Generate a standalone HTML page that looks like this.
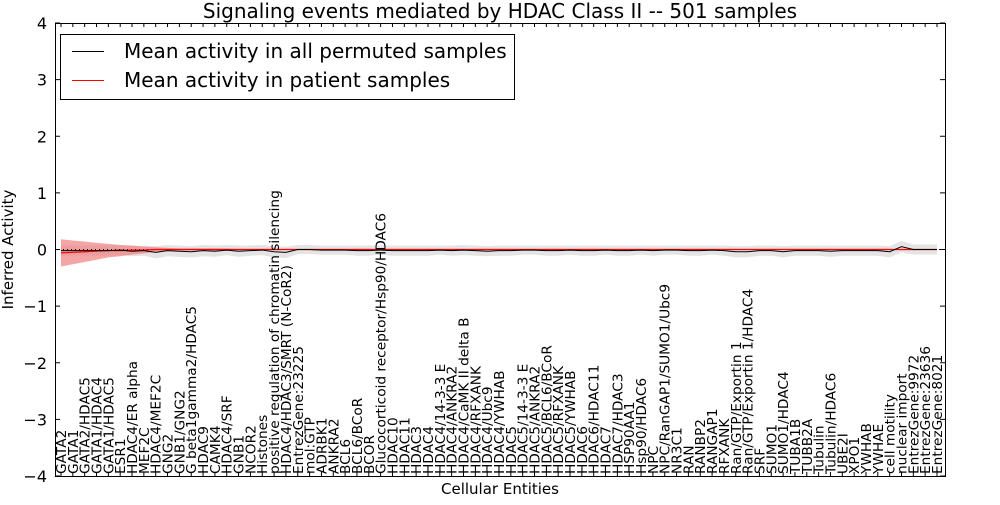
<!DOCTYPE html>
<html><head><meta charset="utf-8"><style>
body{margin:0;background:#fff;}
svg{font-family:"DejaVu Sans","Liberation Sans",sans-serif;}
</style></head><body>
<svg id="chart" width="1000" height="500" viewBox="0 0 1000 500">
<rect width="1000" height="500" fill="#fff"/>
<g id="bands"></g><g id="lines"></g><g id="axes"></g><g id="xlabels"></g>
<text x="500" y="18" text-anchor="middle" font-size="20">Signaling events mediated by HDAC Class II -- 501 samples</text>
<text x="500" y="494" text-anchor="middle" font-size="15">Cellular Entities</text>
<text transform="translate(13,249.5) rotate(-90)" text-anchor="middle" font-size="15">Inferred Activity</text>
<g>
<rect x="60.5" y="34.5" width="454" height="65" fill="#fff" stroke="#000"/>
<line x1="72" y1="51.5" x2="104" y2="51.5" stroke="#000"/>
<text x="124" y="58" font-size="20">Mean activity in all permuted samples</text>
<line x1="72" y1="80.5" x2="104" y2="80.5" stroke="#f00"/>
<text x="124" y="87" font-size="20">Mean activity in patient samples</text>
</g>
</svg>
<script>
const categories=["GATA2","GATA1","GATA2/HDAC5","GATA1/HDAC4","GATA1/HDAC5","ESR1","HDAC4/ER alpha","MEF2C","HDAC4/MEF2C","GNG2","GNB1/GNG2","G beta1gamma2/HDAC5","HDAC9","CAMK4","HDAC4/SRF","GNB1","NCOR2","Histones","positive regulation of chromatin silencing","HDAC4/HDAC3/SMRT (N-CoR2)","EntrezGene:23225","mol:GTP","ADRBK1","ANKRA2","BCL6","BCL6/BCoR","BCOR","Glucocorticoid receptor/Hsp90/HDAC6","HDAC10","HDAC11","HDAC3","HDAC4","HDAC4/14-3-3 E","HDAC4/ANKRA2","HDAC4/CaMK II delta B","HDAC4/RFXANK","HDAC4/Ubc9","HDAC4/YWHAB","HDAC5","HDAC5/14-3-3 E","HDAC5/ANKRA2","HDAC5/BCL6/BCoR","HDAC5/RFXANK","HDAC5/YWHAB","HDAC6","HDAC6/HDAC11","HDAC7","HDAC7/HDAC3","HSP90AA1","Hsp90/HDAC6","NPC","NPC/RanGAP1/SUMO1/Ubc9","NR3C1","RAN","RANBP2","RANGAP1","RFXANK","Ran/GTP/Exportin 1","Ran/GTP/Exportin 1/HDAC4","SRF","SUMO1","SUMO1/HDAC4","TUBA1B","TUBB2A","Tubulin","Tubulin/HDAC6","UBE2I","XPO1","YWHAB","YWHAE","cell motility","nuclear import","EntrezGene:9972","EntrezGene:23636","EntrezGene:8021"];
const permutedMean=[-0.02,-0.02,-0.02,-0.02,-0.02,-0.01,-0.03,-0.02,-0.05,-0.02,-0.03,-0.04,-0.02,-0.03,-0.01,-0.03,-0.02,-0.01,-0.04,-0.05,0,0,-0.01,-0.01,-0.01,-0.02,-0.02,-0.01,-0.02,-0.02,-0.02,-0.02,-0.01,-0.02,-0.01,-0.02,-0.03,-0.02,-0.02,-0.01,-0.01,-0.02,-0.02,-0.01,-0.02,-0.02,-0.01,-0.02,-0.02,-0.01,-0.02,-0.01,-0.01,-0.02,-0.02,-0.01,-0.02,-0.04,-0.04,-0.02,-0.02,-0.04,-0.02,-0.02,-0.02,-0.03,-0.02,-0.02,-0.02,-0.02,-0.04,0.05,0,0,0];
const permutedSd=[0.09,0.09,0.09,0.09,0.09,0.09,0.09,0.09,0.11,0.1,0.1,0.1,0.1,0.1,0.09,0.1,0.09,0.09,0.1,0.1,0.08,0.08,0.08,0.08,0.08,0.09,0.09,0.08,0.09,0.09,0.09,0.09,0.08,0.09,0.09,0.09,0.09,0.09,0.09,0.08,0.08,0.09,0.09,0.08,0.09,0.09,0.08,0.09,0.09,0.08,0.09,0.08,0.08,0.09,0.09,0.08,0.09,0.1,0.1,0.09,0.09,0.1,0.09,0.09,0.09,0.1,0.09,0.09,0.09,0.09,0.1,0.1,0.09,0.09,0.09];
const patientMean=[-0.06,-0.05,-0.04,-0.03,-0.02,-0.02,-0.01,-0.01,0,0,0,0,0,0,0,0,0,0,0,0,0,0,0,0,0,0,0,0,0,0,0,0,0,0,0,0,0,0,0,0,0,0,0,0,0,0,0,0,0,0,0,0,0,0,0,0,0,0,0,0,0,0,0,0,0,0,0,0,0,0,0,0,0,0,0];
const patientSd=[0.24,0.21,0.18,0.15,0.12,0.1,0.08,0.06,0.04,0.03,0.02,0.02,0.02,0.02,0.02,0.01,0.01,0.01,0.01,0.01,0.01,0.01,0.01,0.01,0.01,0.01,0.01,0.01,0.01,0.01,0.01,0.01,0.01,0.01,0.01,0.01,0.01,0.01,0.01,0.01,0.01,0.01,0.01,0.01,0.01,0.01,0.01,0.01,0.01,0.01,0.01,0.01,0.01,0.01,0.01,0.01,0.01,0.01,0.01,0.01,0.01,0.01,0.01,0.01,0.01,0.01,0.01,0.01,0.01,0.01,0.01,0.01,0.01,0.01,0.01];
const yTicks=[-4,-3,-2,-1,0,1,2,3,4];

const NS="http://www.w3.org/2000/svg";
const L=55,R=945,T=23,B=476;
const x=i=>61+i*(937-61)/(categories.length-1);
const y=v=>T+(4-v)*(B-T)/8;
function mk(tag,attrs,parent){const e=document.createElementNS(NS,tag);for(const k in attrs)e.setAttribute(k,attrs[k]);parent.appendChild(e);return e;}
const bands=document.getElementById('bands'),lines=document.getElementById('lines'),axes=document.getElementById('axes'),xl=document.getElementById('xlabels');
function band(m,s){let up=m.map((v,i)=>x(i)+','+y(v+s[i]));let dn=m.map((v,i)=>x(i)+','+y(v-s[i])).reverse();return up.concat(dn).join(' ');}
let g=mk('polygon',{points:band(permutedMean,permutedSd),fill:'#d8d8d8','fill-opacity':0.7},bands);


let r=mk('polygon',{points:band(patientMean,patientSd),fill:'#f08080','fill-opacity':0.7},bands);


let z=mk('line',{x1:L,x2:R,y1:y(0),y2:y(0),stroke:'#000','stroke-dasharray':'1,3'},lines);


let pl=mk('polyline',{points:patientMean.map((v,i)=>x(i)+','+y(v)).join(' '),fill:'none',stroke:'#f00','stroke-width':1.2},lines);


let bl=mk('polyline',{points:permutedMean.map((v,i)=>x(i)+','+y(v)).join(' '),fill:'none',stroke:'#000','stroke-width':1},lines);


let fr=mk('rect',{x:L+0.5,y:T+0.5,width:R-L,height:B-T,fill:'none',stroke:'#000'},axes);


yTicks.forEach(t=>{
  mk('line',{x1:L,x2:L+5,y1:y(t),y2:y(t),stroke:'#000'},axes);
  mk('line',{x1:R-5,x2:R,y1:y(t),y2:y(t),stroke:'#000'},axes);
  const tx=mk('text',{x:L-8,y:y(t)+6,'text-anchor':'end','font-size':16},axes);
  tx.textContent=(t<0?'\u2212'+(-t):t);
  
  
});
categories.forEach((c,i)=>{
  mk('line',{x1:x(i),x2:x(i),y1:B,y2:B-4,stroke:'#000'},axes);
  mk('line',{x1:x(i),x2:x(i),y1:T,y2:T+4,stroke:'#000'},axes);
  const t=mk('text',{transform:`translate(${x(i)+5},474) rotate(-90)`,'font-size':13.7},xl);
  t.textContent=c;
  
  
});
</script>
</body></html>
